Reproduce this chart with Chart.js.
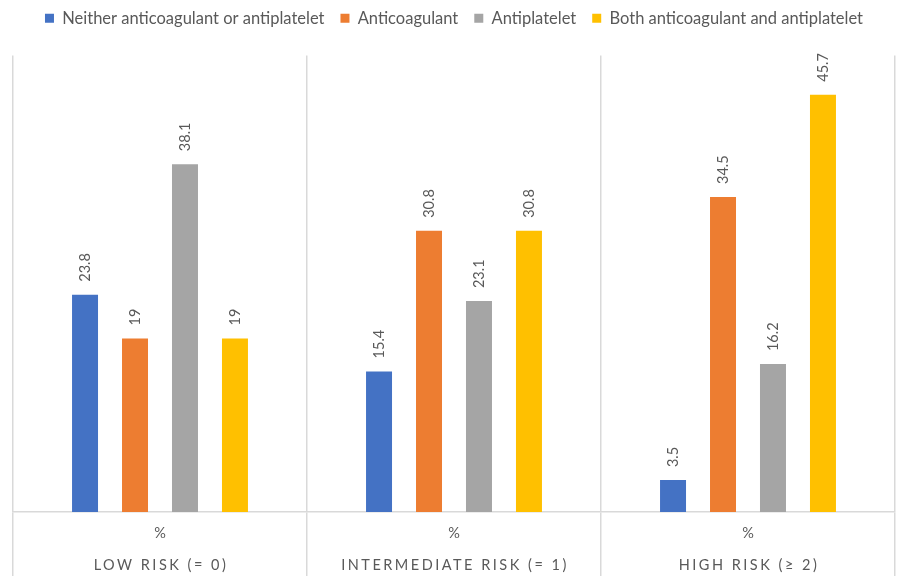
<!DOCTYPE html>
<html>
<head>
<meta charset="utf-8">
<script src="https://cdn.jsdelivr.net/npm/chart.js@4"></script>
<style>
  html, body { margin: 0; padding: 0; background: #fff; }
  #wrap { width: 897px; height: 576px; }
</style>
</head>
<body>
<div id="wrap"><canvas id="chart"></canvas></div>
<script>
// data
const groups = ['LOW RISK (= 0)', 'INTERMEDIATE RISK (= 1)', 'HIGH RISK (\u2265 2)'];
const subLabel = '%';
const seriesNames = ['Neither anticoagulant or antiplatelet', 'Anticoagulant', 'Antiplatelet', 'Both anticoagulant and antiplatelet'];
const neither = [23.8, 15.4, 3.5];
const anticoagulant = [19, 30.8, 34.5];
const antiplatelet = [38.1, 23.1, 16.2];
const both = [19, 30.8, 45.7];
const colors = ['#4472C4', '#ED7D31', '#A5A5A5', '#FFC000'];

const FONT = 'Lato, "Open Sans", sans-serif';
const TEXT = '#595959';
const LINE = '#D9D9D9';

// extra room under the legend
const legendGap = {
  id: 'legendGap',
  beforeInit(chart) {
    const fit = chart.legend.fit;
    chart.legend.fit = function () {
      fit.bind(chart.legend)();
      this.height += 19;
    };
  }
};

// rotated value labels above bars
const valueLabels = {
  id: 'valueLabels',
  afterDatasetsDraw(chart) {
    const ctx = chart.ctx;
    ctx.save();
    ctx.fillStyle = TEXT;
    ctx.font = '14.5px ' + FONT;
    ctx.textAlign = 'left';
    ctx.textBaseline = 'middle';
    chart.data.datasets.forEach((ds, i) => {
      chart.getDatasetMeta(i).data.forEach((bar, j) => {
        ctx.save();
        ctx.translate(bar.x, bar.y - 13);
        ctx.rotate(-Math.PI / 2);
        ctx.fillText(String(ds.data[j]), 0, 0);
        ctx.restore();
      });
    });
    ctx.restore();
  }
};

// two-level category labels under the axis
const groupLabels = {
  id: 'groupLabels',
  afterDraw(chart) {
    const ctx = chart.ctx;
    const x = chart.scales.x;
    ctx.save();
    ctx.fillStyle = TEXT;
    ctx.textAlign = 'center';
    ctx.textBaseline = 'middle';
    groups.forEach((g, i) => {
      const px = x.getPixelForValue(i);
      ctx.font = '14.5px ' + FONT;
      ctx.letterSpacing = '0px';
      ctx.fillText(subLabel, px, x.top + 21);
      ctx.letterSpacing = '2.5px';
      ctx.fillText(g, px + 1, x.top + 53);
    });
    ctx.restore();
  }
};

new Chart(document.getElementById('chart'), {
  type: 'bar',
  data: {
    labels: groups,
    datasets: [neither, anticoagulant, antiplatelet, both].map((d, i) => ({
      label: seriesNames[i],
      data: d,
      backgroundColor: colors[i],
      borderWidth: 0,
      barPercentage: 0.52,
      categoryPercentage: 0.68,
    })),
  },
  options: {
    responsive: true,
    maintainAspectRatio: false,
    animation: false,
    layout: { padding: { left: 13, right: 2, top: -6, bottom: 0 } },
    plugins: {
      legend: {
        position: 'top',
        labels: {
          boxWidth: 9,
          boxHeight: 9,
          color: TEXT,
          font: { family: FONT, size: 16.5 },
          padding: 16,
        },
      },
      tooltip: { enabled: false },
    },
    scales: {
      y: { display: false, min: 0, max: 50 },
      x: {
        grid: { offset: true, color: LINE, lineWidth: 1.5, tickLength: 64, drawOnChartArea: true },
        border: { color: LINE, width: 1.5 },
        ticks: { display: false },
      },
    },
  },
  plugins: [legendGap, valueLabels, groupLabels],
});
</script>
</body>
</html>
